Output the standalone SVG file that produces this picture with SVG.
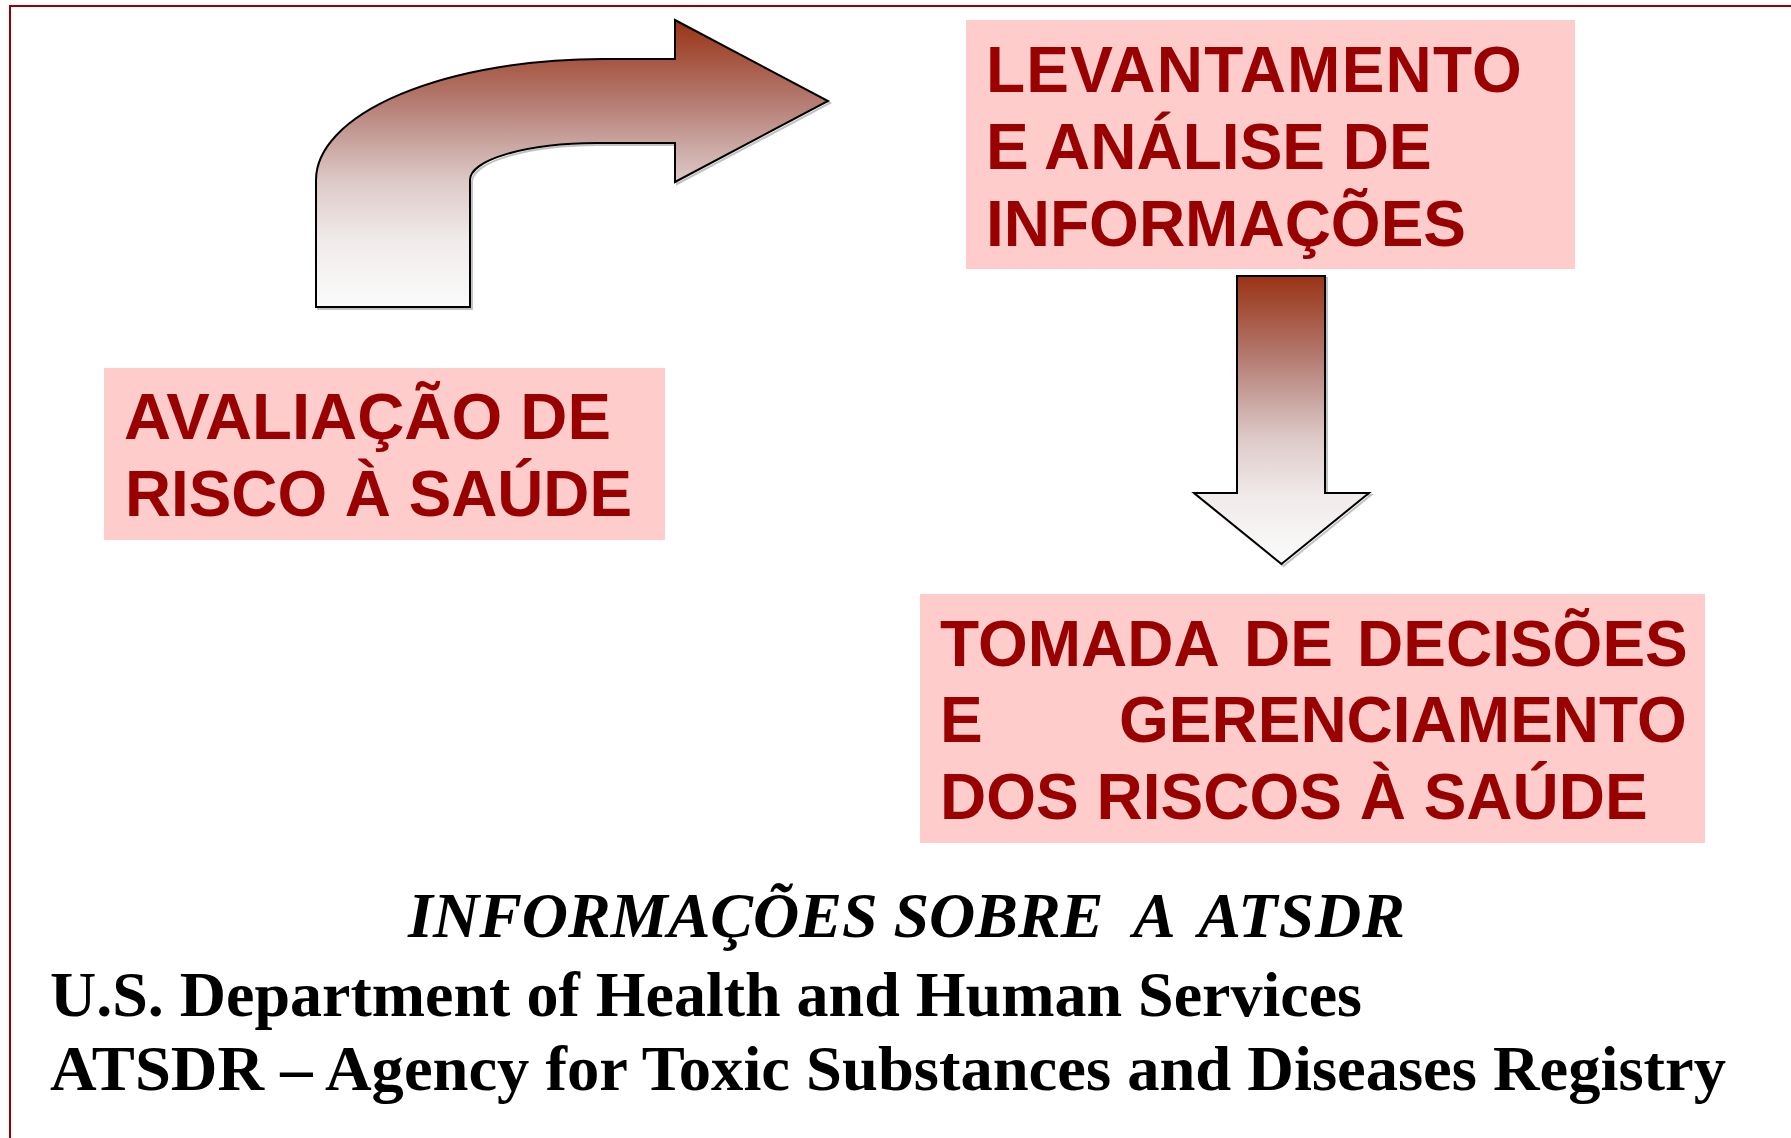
<svg xmlns="http://www.w3.org/2000/svg" width="1791" height="1138" viewBox="0 0 1791 1138">
  <style>
    .box { fill: #ffcccc; }
    .lbl { font-family: "Liberation Sans", Arial, sans-serif; font-weight: bold; font-size: 64px; fill: #990000; }
    .foot { font-family: "Liberation Serif", "Times New Roman", serif; font-weight: bold; font-size: 64px; fill: #000000; }
    .arrow { stroke: #000000; stroke-width: 2; stroke-linejoin: miter; }
    .shadow { fill: none; stroke: #9a9a9a; stroke-width: 2; opacity: 0.6; }
  </style>
  <defs>
    <linearGradient id="gradArrow" x1="0" y1="0" x2="0" y2="1">
      <stop offset="0" stop-color="#993314"/>
      <stop offset="0.28" stop-color="#b47a70"/>
      <stop offset="0.42" stop-color="#c8a29d"/>
      <stop offset="0.56" stop-color="#ddc9c7"/>
      <stop offset="0.77" stop-color="#f1ebeb"/>
      <stop offset="1" stop-color="#fbfbfb"/>
    </linearGradient>
  </defs>
  <rect x="0" y="0" width="1791" height="1138" fill="#ffffff"/>
  <rect id="border" x="10" y="6" width="1800" height="1200" fill="none" stroke="#990000" stroke-width="2"/>

  <g id="connectors">
    <g id="arrow-curved">
      <path class="shadow" transform="translate(2,2)" d="M316,307 L316,180 A287,121 0 0 1 603,59 L675,59 L675,20 L828,101 L675,182 L675,143 L597,143 A127,37 0 0 0 470,180 L470,307 Z"/>
      <path class="arrow" fill="url(#gradArrow)" d="M316,307 L316,180 A287,121 0 0 1 603,59 L675,59 L675,20 L828,101 L675,182 L675,143 L597,143 A127,37 0 0 0 470,180 L470,307 Z"/>
    </g>
    <g id="arrow-down">
      <path class="shadow" transform="translate(2,2)" d="M1237,276 L1325,276 L1325,493 L1369,493 L1281.5,564 L1194,493 L1237,493 Z"/>
      <path class="arrow" fill="url(#gradArrow)" d="M1237,276 L1325,276 L1325,493 L1369,493 L1281.5,564 L1194,493 L1237,493 Z"/>
    </g>
  </g>

  <g id="node-levantamento">
    <rect class="box" x="966" y="20" width="609" height="249"/>
    <text class="lbl" x="986" y="92" letter-spacing="1.2">LEVANTAMENTO</text>
    <text class="lbl" x="986" y="169">E ANÁLISE DE</text>
    <text class="lbl" x="986" y="246">INFORMAÇÕES</text>
  </g>

  <g id="node-avaliacao">
    <rect class="box" x="104" y="368" width="561" height="172"/>
    <text class="lbl" x="124" y="439" textLength="487" lengthAdjust="spacingAndGlyphs">AVALIAÇÃO DE</text>
    <text class="lbl" x="125" y="516" textLength="507" lengthAdjust="spacingAndGlyphs">RISCO À SAÚDE</text>
  </g>

  <g id="node-tomada">
    <rect class="box" x="920" y="594" width="785" height="249"/>
    <text class="lbl" y="666"><tspan x="940">TOMADA</tspan><tspan x="1244">DE</tspan><tspan x="1357">DECISÕES</tspan></text>
    <text class="lbl" y="742"><tspan x="940">E</tspan><tspan x="1119">GERENCIAMENTO</tspan></text>
    <text class="lbl" x="940" y="819">DOS RISCOS À SAÚDE</text>
  </g>

  <g id="footer">
    <text class="foot" x="408" y="937" font-size="65" font-style="italic" xml:space="preserve">INFORMAÇÕES SOBRE  A <tspan dx="10" letter-spacing="1">ATSDR</tspan></text>
    <text class="foot" x="50" y="1016">U.S. Department of Health and Human Services</text>
    <text class="foot" x="50" y="1090" textLength="1676" lengthAdjust="spacingAndGlyphs">ATSDR – Agency for Toxic Substances and Diseases Registry</text>
  </g>
</svg>
